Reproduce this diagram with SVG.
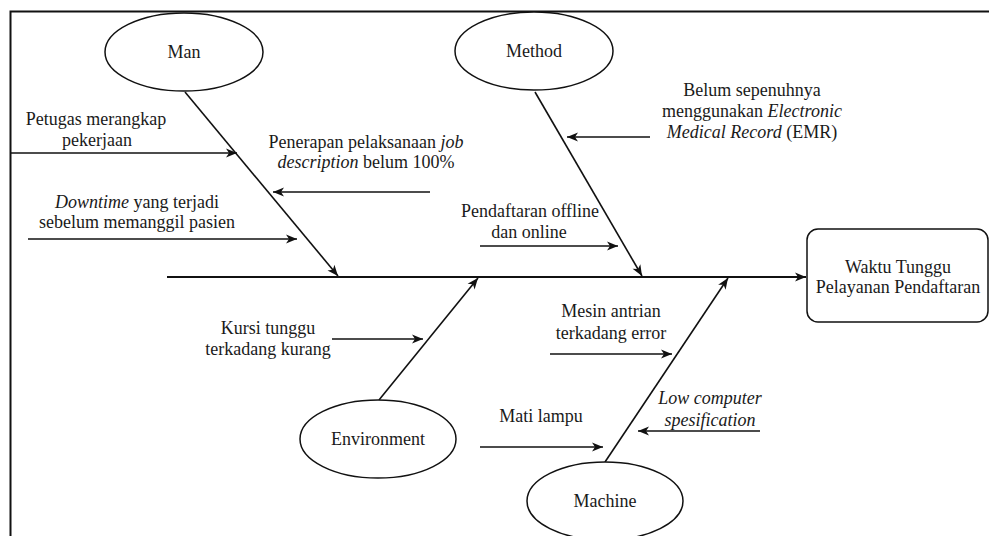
<svg xmlns="http://www.w3.org/2000/svg" width="989" height="536" viewBox="0 0 989 536">
  <defs>
    <marker id="ah" markerWidth="13" markerHeight="11" refX="12" refY="5.5" orient="auto" markerUnits="userSpaceOnUse">
      <path d="M1,1 L12,5.5 L1,10 L4,5.5 z" fill="#111"/>
    </marker>
  </defs>
  <style>
    text { font-family: 'Liberation Serif', 'DejaVu Serif', serif; font-size: 18px; fill: #1a1a1a; text-anchor: middle; }
    .it { font-style: italic; }
    .node { fill: #fff; stroke: #111; stroke-width: 1.5; }
    .con { fill: none; stroke: #111; stroke-width: 1.6; marker-end: url(#ah); }
    .spine { fill: none; stroke: #111; stroke-width: 1.8; marker-end: url(#ah); }
  </style>

  <rect x="0" y="0" width="989" height="536" fill="#fff"/>
  <!-- frame -->
  <rect x="10.5" y="11.5" width="990" height="540" fill="none" stroke="#111" stroke-width="2"/>

  <!-- connectors: spine, bones and cause arrows -->
  <g id="connectors">
    <line class="spine" x1="167" y1="277" x2="806" y2="277"/>
    <line class="con" x1="185" y1="92" x2="338" y2="276"/>
    <line class="con" x1="535" y1="92" x2="642" y2="276"/>
    <line class="con" x1="379" y1="400" x2="478" y2="278"/>
    <line class="con" x1="605" y1="462" x2="728" y2="278"/>

    <line class="con" x1="11" y1="153" x2="237" y2="153"/>
    <line class="con" x1="430" y1="192" x2="273" y2="192"/>
    <line class="con" x1="28" y1="239" x2="297" y2="239"/>
    <line class="con" x1="650" y1="137" x2="567" y2="137"/>
    <line class="con" x1="480" y1="246" x2="618" y2="246"/>
    <line class="con" x1="332" y1="339" x2="423" y2="339"/>
    <line class="con" x1="550" y1="354" x2="672" y2="354"/>
    <line class="con" x1="480" y1="447" x2="603" y2="447"/>
    <line class="con" x1="760" y1="431" x2="638" y2="431"/>
  </g>

  <g font-family="Liberation Serif, DejaVu Serif, serif">
  <g id="man">
    <ellipse class="node" cx="184" cy="52" rx="79" ry="39"/>
    <text x="184" y="58">Man</text>
  </g>
  <g id="method">
    <ellipse class="node" cx="534" cy="51" rx="79" ry="39"/>
    <text x="534" y="57">Method</text>
  </g>
  <g id="environment">
    <ellipse class="node" cx="378" cy="439" rx="78" ry="39"/>
    <text x="378" y="445">Environment</text>
  </g>
  <g id="machine">
    <ellipse class="node" cx="605" cy="501" rx="78" ry="39"/>
    <text x="605" y="507">Machine</text>
  </g>
  <g id="effect">
    <rect class="node" x="807" y="229" width="181" height="93" rx="11"/>
    <text x="898" y="273">Waktu Tunggu</text>
    <text x="898" y="293">Pelayanan Pendaftaran</text>
  </g>

  <g id="cause-petugas">
    <text x="96" y="125">Petugas merangkap</text>
    <text x="97" y="146">pekerjaan</text>
  </g>
  <g id="cause-penerapan">
    <text x="366" y="148">Penerapan pelaksanaan <tspan class="it">job</tspan></text>
    <text x="366" y="168"><tspan class="it">description</tspan> belum 100%</text>
  </g>
  <g id="cause-downtime">
    <text x="137" y="208"><tspan class="it">Downtime</tspan> yang terjadi</text>
    <text x="137" y="228">sebelum memanggil pasien</text>
  </g>
  <g id="cause-emr">
    <text x="752" y="96">Belum sepenuhnya</text>
    <text x="752" y="117">menggunakan <tspan class="it">Electronic</tspan></text>
    <text x="752" y="138"><tspan class="it">Medical Record</tspan> (EMR)</text>
  </g>
  <g id="cause-pendaftaran">
    <text x="530" y="217">Pendaftaran offline</text>
    <text x="529" y="238">dan online</text>
  </g>
  <g id="cause-kursi">
    <text x="268" y="334">Kursi tunggu</text>
    <text x="268" y="355">terkadang kurang</text>
  </g>
  <g id="cause-mesin">
    <text x="611" y="317">Mesin antrian</text>
    <text x="611" y="339">terkadang error</text>
  </g>
  <g id="cause-lampu">
    <text x="541" y="422">Mati lampu</text>
  </g>
  <g id="cause-computer">
    <text class="it" x="710" y="404">Low computer</text>
    <text class="it" x="710" y="426">spesification</text>
  </g>
  </g>
</svg>
